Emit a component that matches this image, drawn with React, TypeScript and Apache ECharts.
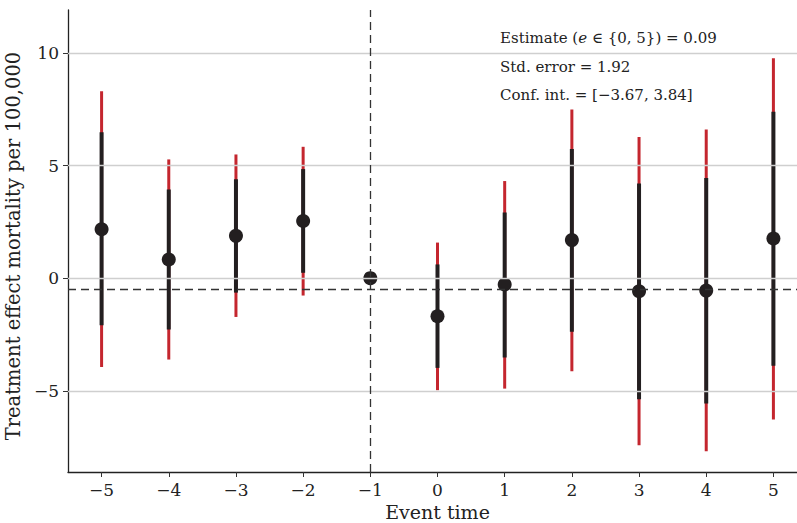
import React, { useEffect, useRef } from "react";
import * as echarts from "echarts";

const eventTimes = ["−5", "−4", "−3", "−2", "−1", "0", "1", "2", "3", "4", "5"];
const estimates = [2.17, 0.83, 1.88, 2.54, 0, -1.69, -0.28, 1.69, -0.58, -0.55, 1.76];
const innerLow = [-2.09, -2.28, -0.64, 0.24, 0, -3.98, -3.52, -2.38, -5.37, -5.56, -3.89];
const innerHigh = [6.47, 3.94, 4.39, 4.84, 0, 0.61, 2.92, 5.73, 4.2, 4.44, 7.38];
const outerLow = [-3.94, -3.61, -1.72, -0.77, 0, -4.97, -4.9, -4.13, -7.41, -7.68, -6.27];
const outerHigh = [8.3, 5.27, 5.49, 5.83, 0, 1.58, 4.31, 7.49, 6.26, 6.6, 9.76];
const yTicks = [-5, 0, 5, 10];
const yTickLabels = ["−5", "0", "5", "10"];
const referenceLineY = -0.47;
const eventLine = "−1";
const annotations = [
  "Estimate ({i|e} ∈ {0, 5}) = 0.09",
  "Std. error = 1.92",
  "Conf. int. = [−3.67, 3.84]",
];

const FONT = "'DejaVu Serif', serif";
const BLACK = "#231f20";
const RED = "#c4262e";

function ciSeries(low: number[], high: number[], color: string, width: number, z: number) {
  return {
    type: "custom",
    z,
    silent: true,
    data: eventTimes.map((_, i) => [i, low[i], high[i]]),
    encode: { x: 0, y: [1, 2] },
    renderItem: (params: any, api: any) => {
      const x = api.value(0);
      const lo = api.value(1);
      const hi = api.value(2);
      if (lo === hi) return null;
      const p1 = api.coord([x, lo]);
      const p2 = api.coord([x, hi]);
      return {
        type: "line",
        shape: { x1: p1[0], y1: p1[1], x2: p2[0], y2: p2[1] },
        style: { stroke: color, lineWidth: width, lineCap: "butt" },
      };
    },
  };
}

export default function App() {
  const ref = useRef<HTMLDivElement>(null);
  useEffect(() => {
    if (!ref.current) return;
    const chart = echarts.init(ref.current, null, { renderer: "svg" });
    chart.setOption({
      animation: false,
      backgroundColor: "#ffffff",
      grid: { left: 68, right: -10, top: 10, bottom: 51, containLabel: false, outerBoundsMode: "none" },
      xAxis: {
        type: "category",
        data: eventTimes,
        boundaryGap: true,
        name: "Event time",
        nameLocation: "middle",
        nameGap: 30,
        nameTextStyle: { fontFamily: FONT, fontSize: 19, color: "#222" },
        axisLine: { show: true, onZero: false, lineStyle: { color: "#222", width: 1.3 } },
        axisTick: { show: true, alignWithLabel: true, length: 5, lineStyle: { color: "#333", width: 1 } },
        axisLabel: { fontFamily: FONT, fontSize: 17, color: "#222", margin: 9 },
        splitLine: { show: false },
      },
      yAxis: {
        type: "value",
        min: -8.6,
        max: 11.9,
        name: "Treatment effect mortality per 100,000",
        nameLocation: "middle",
        nameGap: 34,
        nameTextStyle: { fontFamily: FONT, fontSize: 19.5, color: "#222", padding: [0, 10, 0, 0] },
        axisLine: { show: true, onZero: false, lineStyle: { color: "#222", width: 1.3 } },
        axisTick: { show: true, length: 5, customValues: yTicks, lineStyle: { color: "#333", width: 1 } },
        axisLabel: {
          fontFamily: FONT,
          fontSize: 17,
          color: "#222",
          margin: 9,
          customValues: yTicks,
          formatter: (v: number) => yTickLabels[yTicks.indexOf(v)] ?? String(v),
        },
        splitLine: { show: false },
      },
      series: [
        {
          type: "scatter",
          z: 1,
          silent: true,
          data: [],
          markLine: {
            silent: true,
            symbol: "none",
            label: { show: false },
            lineStyle: { color: "#cfcfcf", width: 1.3, type: "solid" },
            data: yTicks.map((v) => ({ yAxis: v })),
          },
        },
        ciSeries(outerLow, outerHigh, RED, 3, 2),
        ciSeries(innerLow, innerHigh, BLACK, 4, 3),
        {
          type: "scatter",
          z: 4,
          silent: true,
          symbol: "circle",
          symbolSize: 14,
          itemStyle: { color: BLACK, opacity: 1 },
          data: eventTimes.map((_, i) => [i, estimates[i]]),
          markLine: {
            silent: true,
            symbol: "none",
            label: { show: false },
            lineStyle: { color: "#333", width: 1.3, type: [8, 5], opacity: 1 },
            data: [{ yAxis: referenceLineY }, { xAxis: eventLine }],
          },
        },
      ],
      graphic: annotations.map((t, i) => ({
        type: "text",
        x: 500,
        y: 38 + i * 28.5,
        z: 10,
        style: {
          text: t,
          fontFamily: FONT,
          fontSize: 15,
          fill: "#222",
          verticalAlign: "middle",
          rich: { i: { fontStyle: "italic", fontFamily: FONT, fontSize: 15, fill: "#222" } },
        },
      })),
    });
    return () => chart.dispose();
  }, []);
  return (
    <div
      ref={ref}
      style={{ position: "fixed", left: 0, top: 0, width: 797, height: 523, background: "#fff" }}
    />
  );
}
